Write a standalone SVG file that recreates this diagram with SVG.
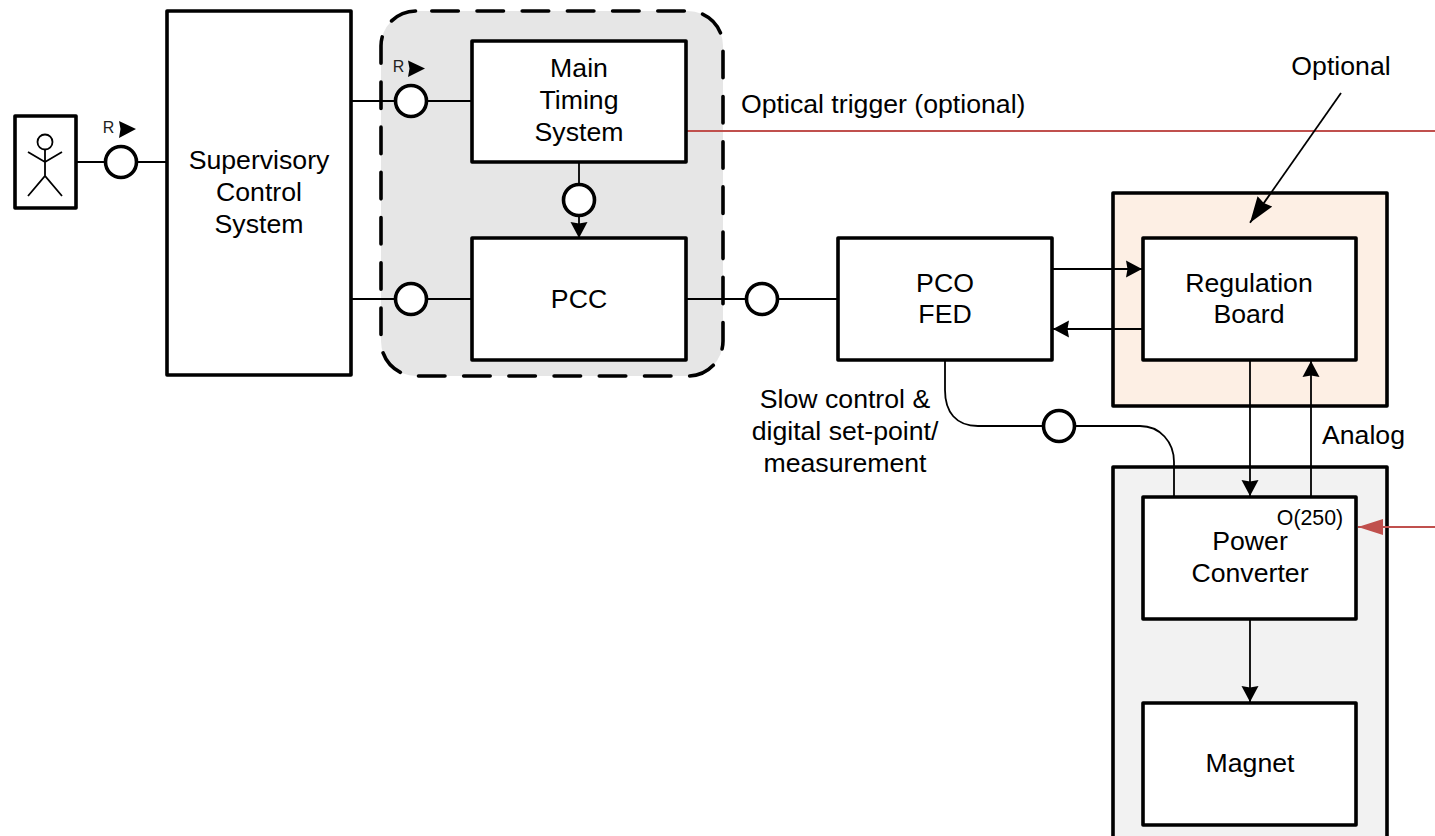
<svg xmlns="http://www.w3.org/2000/svg" width="1435" height="836" viewBox="0 0 1435 836">
<style>
.box{fill:#fff;stroke:#000;stroke-width:3.6;stroke-linejoin:round}
.ln{fill:none;stroke:#000;stroke-width:1.8}
.c{fill:#fff;stroke:#000;stroke-width:3.6}
text{font-family:"Liberation Sans",Arial,sans-serif;font-size:26.67px;fill:#000;text-anchor:middle}
.s{font-size:16px;fill:#222}
.m{font-size:21.33px}
.l{text-anchor:start}
</style>
<defs>
<marker id="a" markerUnits="userSpaceOnUse" markerWidth="17" markerHeight="18" refX="16" refY="9" orient="auto"><path d="M0,0.5L16,9L0,17.5L1.5,9Z" fill="#000"/></marker>
<marker id="b" markerUnits="userSpaceOnUse" markerWidth="27" markerHeight="20" refX="26" refY="10" orient="auto"><path d="M0,1L26,10L0,19L2,10Z" fill="#000"/></marker>
<marker id="r" markerUnits="userSpaceOnUse" markerWidth="26" markerHeight="18" refX="25" refY="9" orient="auto"><path d="M0,1L25,9L0,17Z" fill="#c0504d"/></marker>
</defs>
<g id="group-bg">
<rect x="381" y="11" width="342" height="365" rx="35" fill="#e6e6e6" stroke="#000" stroke-width="3.6" stroke-linecap="round" stroke-dasharray="26.5 18.7" stroke-dashoffset="-15.8"/>
</g>
<g id="optional-bg"><rect x="1113" y="193" width="274" height="213" fill="#fdefe4" stroke="#000" stroke-width="3.6" stroke-linejoin="round"/></g>
<g id="converter-bg"><rect x="1113" y="467" width="274" height="372" fill="#f2f2f2" stroke="#000" stroke-width="3.6" stroke-linejoin="round"/></g>
<g id="connectors">
<path class="ln" d="M76,162H167"/>
<path class="ln" d="M351,101H472"/>
<path class="ln" d="M351,299H472"/>
<path class="ln" d="M687,299H838"/>
<path class="ln" d="M579,162V238" marker-end="url(#a)"/>
<path class="ln" d="M1052,269H1142" marker-end="url(#a)"/>
<path class="ln" d="M1142,329H1053" marker-end="url(#a)"/>
<path class="ln" d="M1250,360V496" marker-end="url(#a)"/>
<path class="ln" d="M1311,496V361" marker-end="url(#a)"/>
<path class="ln" d="M1250,619V702" marker-end="url(#a)"/>
<path class="ln" d="M945,360V390C945,412 956,426 978,426H1140C1160,426 1174,442 1174,462V496"/>
<path d="M687,131H1435" fill="none" stroke="#c0504d" stroke-width="1.8"/>
<path d="M1435,527H1358" fill="none" stroke="#c0504d" stroke-width="1.8" marker-end="url(#r)"/>
<path d="M1341,93L1250,222.7" fill="none" stroke="#000" stroke-width="1.8" marker-end="url(#b)"/>
</g>
<g id="actor">
<rect class="box" x="15" y="116" width="61" height="92"/>
<circle cx="45" cy="142" r="7.5" fill="none" stroke="#000" stroke-width="1.8"/>
<path class="ln" d="M45,150V176M28,152L45,162L62,152M28,196L45,176L62,196"/>
</g>
<g id="supervisory"><rect class="box" x="167" y="11" width="184" height="364"/><text x="259" y="169">Supervisory</text><text x="259" y="201">Control</text><text x="259" y="233">System</text></g>
<g id="timing"><rect class="box" x="472" y="41" width="214" height="121"/><text x="579" y="77">Main</text><text x="579" y="109">Timing</text><text x="579" y="141">System</text></g>
<g id="pcc"><rect class="box" x="472" y="238" width="214" height="122"/><text x="579" y="308">PCC</text></g>
<g id="pco"><rect class="box" x="838" y="238" width="214" height="122"/><text x="945" y="292">PCO</text><text x="945" y="323">FED</text></g>
<g id="regulation"><rect class="box" x="1143" y="238" width="213" height="122"/><text x="1249" y="292">Regulation</text><text x="1249" y="323">Board</text></g>
<g id="power"><rect class="box" x="1143" y="497" width="213" height="122"/><text x="1250" y="550">Power</text><text x="1250" y="582">Converter</text><text class="m" x="1310" y="525">O(250)</text></g>
<g id="magnet"><rect class="box" x="1143" y="703" width="213" height="122"/><text x="1250" y="772">Magnet</text></g>
<g id="interfaces">
<circle class="c" cx="121" cy="162" r="15.5"/><circle class="c" cx="411" cy="101" r="15.5"/><circle class="c" cx="411" cy="299" r="15.5"/>
<circle class="c" cx="579" cy="200" r="15.5"/><circle class="c" cx="762" cy="299" r="15.5"/><circle class="c" cx="1059" cy="426" r="15.5"/>
<path d="M119,121L136,129L119,138L120.500,129Z M408,60.500L425,68.500L408,77L409.500,68.500Z" fill="#000"/>
<text class="s" x="108.500" y="133">R</text><text class="s" x="398.500" y="72">R</text>
</g>
<g id="labels">
<text class="l" x="741" y="113">Optical trigger (optional)</text>
<text x="1341" y="75">Optional</text>
<text class="l" x="1322" y="444">Analog</text>
<text x="845" y="408">Slow control &amp;</text><text x="845" y="440">digital set-point/</text><text x="845" y="472">measurement</text>
</g>
</svg>
